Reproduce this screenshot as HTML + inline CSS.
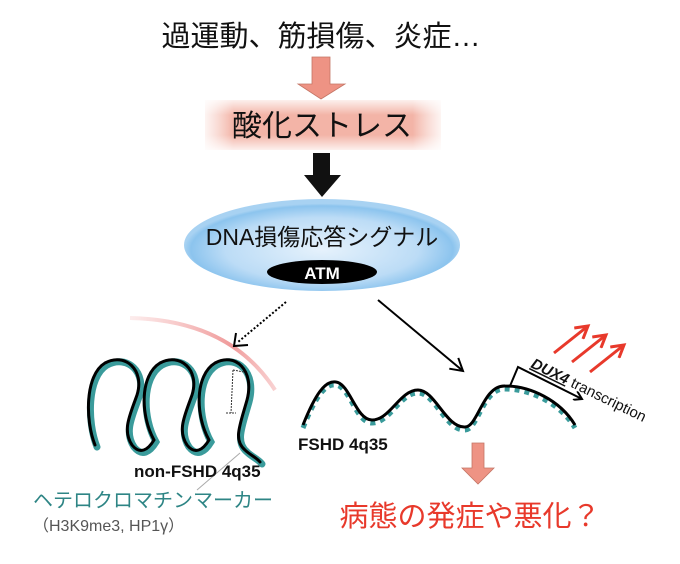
<!DOCTYPE html>
<html><head><meta charset="utf-8"><style>
body{margin:0;background:#fff;width:680px;height:559px;overflow:hidden}
</style></head><body>
<svg width="680" height="559" viewBox="0 0 680 559" xmlns="http://www.w3.org/2000/svg" font-family="Liberation Sans, Noto Sans CJK JP, sans-serif">
<defs>
<linearGradient id="band" x1="0" x2="1">
<stop offset="0" stop-color="#f6c9bf" stop-opacity="0.2"/>
<stop offset="0.12" stop-color="#f3b4a7"/>
<stop offset="0.88" stop-color="#f3b4a7"/>
<stop offset="1" stop-color="#f6c9bf" stop-opacity="0.2"/>
</linearGradient>
<linearGradient id="bandv" x1="0" y1="0" x2="0" y2="1">
<stop offset="0" stop-color="#fff" stop-opacity="0.8"/>
<stop offset="0.3" stop-color="#fff" stop-opacity="0"/>
<stop offset="0.7" stop-color="#fff" stop-opacity="0"/>
<stop offset="1" stop-color="#fff" stop-opacity="0.8"/>
</linearGradient>
<radialGradient id="ell" cx="0.5" cy="0.55" r="0.5">
<stop offset="0" stop-color="#e6f2fc"/>
<stop offset="0.7" stop-color="#bcdcf6"/>
<stop offset="0.95" stop-color="#8cc4ee"/>
<stop offset="1" stop-color="#a8d2f2"/>
</radialGradient>
<linearGradient id="arc" x1="0" x2="1">
<stop offset="0" stop-color="#f2a3a3" stop-opacity="0.2"/>
<stop offset="0.7" stop-color="#ee8f8f" stop-opacity="0.9"/>
<stop offset="1" stop-color="#f2a3a3" stop-opacity="0.5"/>
</linearGradient>
<marker id="ah" markerWidth="10" markerHeight="10" refX="8" refY="5" orient="auto" markerUnits="userSpaceOnUse">
<path d="M0,0 L8,5 L0,10" fill="none" stroke="#000" stroke-width="2"/>
</marker>
<marker id="ahb" markerWidth="16" markerHeight="16" refX="13" refY="8" orient="auto" markerUnits="userSpaceOnUse">
<path d="M1,1 L13,8 L1,15" fill="none" stroke="#000" stroke-width="2"/>
</marker>
<marker id="ahr" markerWidth="16" markerHeight="16" refX="13" refY="8" orient="auto" markerUnits="userSpaceOnUse">
<path d="M1,1 L13,8 L1,15" fill="none" stroke="#e8392b" stroke-width="3"/>
</marker>
</defs>

<text x="321" y="46" font-size="29" text-anchor="middle" fill="#111">過運動、筋損傷、炎症…</text>
<polygon points="312,57 330,57 330,84 345,84 321,99 298,84 312,84" fill="#ee9384" stroke="#c47565" stroke-width="0.8"/>

<rect x="205" y="100" width="236" height="50" fill="url(#band)"/>
<rect x="205" y="100" width="236" height="50" fill="url(#bandv)"/>
<text x="322" y="136" font-size="30" text-anchor="middle" fill="#111">酸化ストレス</text>

<polygon points="313,153 330,153 330,175 341,175 322,197 304,175 313,175" fill="#111"/>

<ellipse cx="322" cy="245" rx="138" ry="46" fill="url(#ell)"/>
<text x="322" y="245" font-size="23" text-anchor="middle" fill="#111">DNA損傷応答シグナル</text>
<ellipse cx="322" cy="272" rx="55" ry="12" fill="#000"/>
<text x="322" y="279" font-size="17" font-weight="bold" text-anchor="middle" fill="#fff">ATM</text>

<path d="M130,318 Q230,320 275,390" fill="none" stroke="url(#arc)" stroke-width="4"/>
<line x1="286" y1="302" x2="238" y2="342" stroke="#000" stroke-width="2" stroke-dasharray="2,2"/>
<path d="M236,333 L234,346 L248,345" fill="none" stroke="#000" stroke-width="2"/>
<line x1="378" y1="300" x2="463" y2="371" stroke="#000" stroke-width="2" marker-end="url(#ahb)"/>

<g fill="none" stroke-linecap="round">
<path d="M95,445 C85,420 85,375 105,363 C125,352 145,370 137,395 C130,415 122,430 132,445 C140,455 148,450 154,440 C140,415 140,375 160,363 C180,352 200,370 192,395 C185,415 177,430 187,445 C195,455 203,450 209,440 C195,415 195,375 215,363 C235,352 255,370 247,400 C240,425 233,440 245,450 C250,455 256,457 260,462" stroke="#3a9b9b" stroke-width="7" transform="translate(2,2)"/>
<path d="M95,445 C85,420 85,375 105,363 C125,352 145,370 137,395 C130,415 122,430 132,445 C140,455 148,450 154,440 C140,415 140,375 160,363 C180,352 200,370 192,395 C185,415 177,430 187,445 C195,455 203,450 209,440 C195,415 195,375 215,363 C235,352 255,370 247,400 C240,425 233,440 245,450 C250,455 256,457 260,462" stroke="#000" stroke-width="3"/>
</g>
<path d="M233,370 L244,372 M233,370 L231,413 M226,413 L236,413" stroke="#333" stroke-width="1" stroke-dasharray="2,1" fill="none"/>
<line x1="240" y1="453" x2="197" y2="490" stroke="#aaa" stroke-width="1"/>

<text x="134" y="477" font-size="17" font-weight="bold" fill="#111">non-FSHD 4q35</text>
<text x="33" y="507" font-size="20" fill="#2e8585">ヘテロクロマチンマーカー</text>
<text x="33" y="531" font-size="16" fill="#555">（H3K9me3, HP1γ）</text>

<path d="M303,425 C315,395 325,380 336,382 C350,384 356,420 372,420 C390,420 400,390 418,390 C435,390 446,428 465,427 C478,427 483,385 505,386 C530,386 560,400 575,425" fill="none" stroke="#3a9b9b" stroke-width="5" stroke-dasharray="5,5" transform="translate(0,3)"/>
<path d="M303,425 C315,395 325,380 336,382 C350,384 356,420 372,420 C390,420 400,390 418,390 C435,390 446,428 465,427 C478,427 483,385 505,386 C530,386 560,400 575,425" fill="none" stroke="#000" stroke-width="3"/>
<text x="298" y="450" font-size="17" font-weight="bold" fill="#111">FSHD 4q35</text>

<path d="M510,386 L518,367 L582,399" fill="none" stroke="#000" stroke-width="2" marker-end="url(#ah)"/>
<text transform="translate(530,367) rotate(26)" font-size="15" fill="#111"><tspan font-weight="bold" font-style="italic" text-decoration="underline">DUX4</tspan> transcription</text>

<line x1="554" y1="353" x2="588" y2="326" stroke="#e8392b" stroke-width="3" marker-end="url(#ahr)"/>
<line x1="572" y1="362" x2="606" y2="335" stroke="#e8392b" stroke-width="3" marker-end="url(#ahr)"/>
<line x1="590" y1="372" x2="624" y2="345" stroke="#e8392b" stroke-width="3" marker-end="url(#ahr)"/>

<polygon points="472,443 484,443 484,468 494,468 478,484 462,468 472,468" fill="#ee9384" stroke="#c47565" stroke-width="0.8"/>
<text x="470" y="526" font-size="29" text-anchor="middle" fill="#e8392b">病態の発症や悪化？</text>
</svg>
</body></html>
